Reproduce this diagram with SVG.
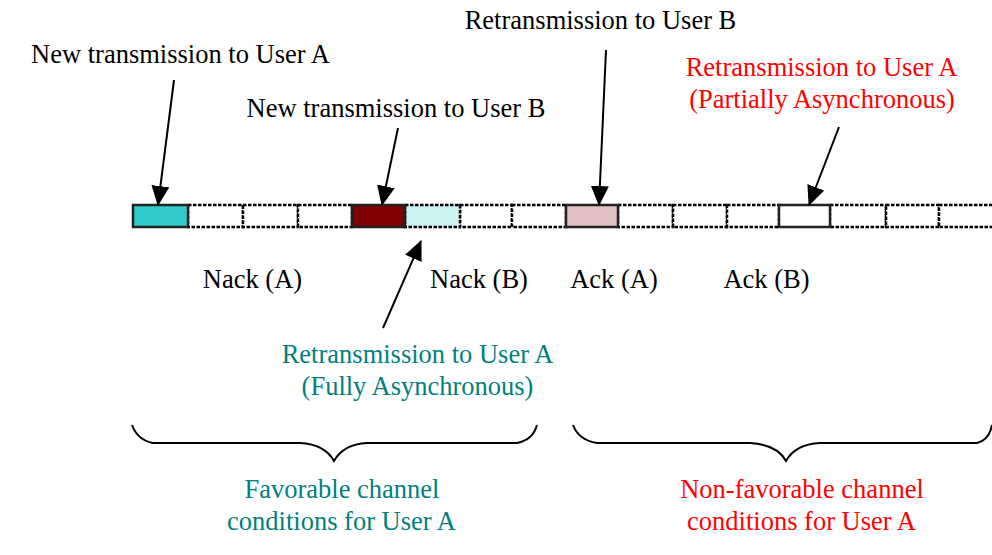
<svg xmlns="http://www.w3.org/2000/svg" width="992" height="555" viewBox="0 0 992 555">
  <style>
    text { font-family: "Liberation Serif", "Times New Roman", serif; font-size: 26.5px; text-anchor: middle; }
    .black { fill: #000000; }
    .red { fill: #ff0000; }
    .teal { fill: #008080; }
    .slot { stroke: #000000; stroke-width: 2.5; stroke-dasharray: 3.5 1.5; fill: #ffffff; }
    .used { stroke: #222222; stroke-width: 2.5; }
    .conn { stroke: #000000; stroke-width: 2; fill: none; marker-end: url(#head); }
    .brace { stroke: #000000; stroke-width: 2; fill: none; }
  </style>
  <defs>
    <marker id="head" markerUnits="userSpaceOnUse" markerWidth="20" markerHeight="20" refX="19" refY="9" orient="auto">
      <path d="M0,0 L20,9 L0,18 z" fill="#000000"/>
    </marker>
  </defs>

  <rect width="992" height="555" fill="#ffffff"/>

  <!-- time axis: empty TTI slots -->
  <g id="slots">
    <rect class="slot" x="188" y="205" width="55" height="22"/>
    <rect class="slot" x="243" y="205" width="55" height="22"/>
    <rect class="slot" x="298" y="205" width="54" height="22"/>
    <rect class="slot" x="460" y="205" width="52" height="22"/>
    <rect class="slot" x="512" y="205" width="54" height="22"/>
    <rect class="slot" x="618" y="205" width="55" height="22"/>
    <rect class="slot" x="673" y="205" width="54" height="22"/>
    <rect class="slot" x="727" y="205" width="52" height="22"/>
    <rect class="slot" x="830" y="205" width="56" height="22"/>
    <rect class="slot" x="886" y="205" width="53" height="22"/>
    <rect class="slot" x="939" y="205" width="56" height="22"/>
  </g>

  <g id="slot-retx-a-fully">
    <rect class="slot" x="405" y="205" width="55" height="22" style="fill:#ccf2f2"/>
  </g>
  <g id="slot-new-a">
    <rect class="used" x="133" y="205" width="55" height="22" fill="#33cccc"/>
  </g>
  <g id="slot-new-b">
    <rect class="used" x="352" y="205" width="53" height="22" fill="#800000"/>
  </g>
  <g id="slot-retx-b">
    <rect class="used" x="566" y="205" width="52" height="22" fill="#e0c0c0"/>
  </g>
  <g id="slot-retx-a-partial">
    <rect class="used" x="779" y="205" width="51" height="22" fill="#ffffff"/>
  </g>

  <!-- labels -->
  <g id="label-new-a">
    <text class="black" x="180.5" y="63">New transmission to User A</text>
  </g>
  <g id="label-retx-b">
    <text class="black" x="600.5" y="29">Retransmission to User B</text>
  </g>
  <g id="label-new-b">
    <text class="black" x="396" y="117">New transmission to User B</text>
  </g>
  <g id="label-retx-a-partial">
    <text class="red" x="821.5" y="76">Retransmission to User A</text>
    <text class="red" x="822" y="108">(Partially Asynchronous)</text>
  </g>
  <g id="label-feedback">
    <text class="black" x="252.5" y="288">Nack (A)</text>
    <text class="black" x="479" y="288">Nack (B)</text>
    <text class="black" x="614" y="288">Ack (A)</text>
    <text class="black" x="766.5" y="288">Ack (B)</text>
  </g>
  <g id="label-retx-a-fully">
    <text class="teal" x="417.5" y="363">Retransmission to User A</text>
    <text class="teal" x="417.5" y="395">(Fully Asynchronous)</text>
  </g>
  <g id="label-favorable">
    <text class="teal" x="342" y="498">Favorable channel</text>
    <text class="teal" x="341.5" y="530">conditions for User A</text>
  </g>
  <g id="label-non-favorable">
    <text class="red" x="802" y="498">Non-favorable channel</text>
    <text class="red" x="801.5" y="530">conditions for User A</text>
  </g>

  <!-- braces -->
  <g id="brace-favorable">
    <path class="brace" d="M132,425 C136,436 143,441 153,443 L300,443 C318,444 328,450 334,461 C340,450 350,444 367,443 L517,443 C527,441 534,436 537,425"/>
  </g>
  <g id="brace-non-favorable">
    <path class="brace" d="M573,425 C577,436 585,441 597,443 L750,443 C768,444 780,450 786,461 C792,450 802,444 820,443 L977,443 C985,441 990,436 992,425"/>
  </g>

  <!-- connectors -->
  <g id="connectors">
    <line class="conn" x1="174" y1="80" x2="158" y2="205"/>
    <line class="conn" x1="398" y1="128" x2="382" y2="205"/>
    <line class="conn" x1="606" y1="50" x2="599" y2="205"/>
    <line class="conn" x1="839" y1="127" x2="809" y2="205"/>
    <line class="conn" x1="383" y1="328" x2="421" y2="241"/>
  </g>
</svg>
